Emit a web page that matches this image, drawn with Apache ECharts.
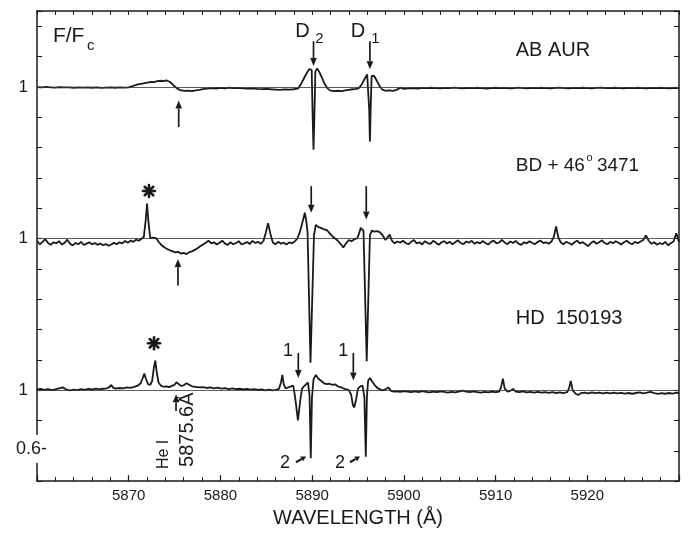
<!DOCTYPE html>
<html><head><meta charset="utf-8">
<script src="https://cdn.jsdelivr.net/npm/echarts/dist/echarts.min.js"></script>
<style>html,body{margin:0;padding:0;background:#fff}#c{width:692px;height:533px}</style>
</head><body><div id="c"></div>
<script>
// ---------------- DATA ----------------
// x axis (wavelength, Angstrom)
const xTickLabels = [5870, 5880, 5890, 5900, 5910, 5920];
// y axis labels (continuum level of each stacked spectrum)
const yLabelValues = [0.6, 1, 2, 3];
const yLabelTexts  = ['', '1', '1', '1'];
// vertical offsets of the stacked spectra
const spectrumNames   = ['AB AUR', 'BD+46 3471', 'HD 150193'];
const spectrumOffsets = [2, 1, 0];

// AB AUR  [wavelength, F/Fc]
const abAur = [
[5860.0,0.998],[5860.5,0.996],[5861.0,0.999],[5861.5,0.997],[5862.0,0.995],[5862.5,0.998],[5863.0,0.996],[5863.5,0.997],[5864.0,0.994],[5864.5,0.996],[5865.0,0.995],[5865.5,0.997],[5866.0,0.994],[5866.5,0.996],[5867.0,0.993],[5867.5,0.995],[5868.0,0.997],[5868.5,0.994],[5869.0,0.996],[5869.5,0.995],[5870.0,0.997],
[5870.5,1.006],[5871.0,1.016],[5871.5,1.021],[5872.0,1.027],[5872.5,1.033],[5872.8,1.031],[5873.1,1.038],[5873.5,1.040],[5873.8,1.037],[5874.1,1.043],[5874.5,1.032],[5874.9,1.010],[5875.3,0.988],[5875.7,0.976],[5876.1,0.973],[5876.5,0.975],[5876.9,0.972],[5877.3,0.976],[5877.7,0.980],[5878.1,0.985],[5878.5,0.988],[5879.0,0.991],[5879.5,0.989],[5880.0,0.993],[5880.5,0.990],[5881.0,0.994],[5881.5,0.991],[5882.0,0.993],[5882.5,0.990],[5883.0,0.988],[5883.5,0.990],[5884.0,0.987],[5884.5,0.985],[5885.0,0.987],[5885.5,0.984],[5886.0,0.982],[5886.5,0.980],[5887.0,0.983],[5887.5,0.981],[5888.0,0.984],
[5888.5,0.990],[5888.8,1.020],[5889.1,1.055],[5889.4,1.090],[5889.7,1.118],[5889.95,1.110],[5890.05,0.820],[5890.15,0.585],[5890.25,0.820],[5890.35,1.100],[5890.55,1.122],[5890.8,1.095],[5891.1,1.055],[5891.4,1.015],[5891.7,0.988],[5892.0,0.975],[5892.4,0.972],[5892.8,0.974],[5893.2,0.971],[5893.6,0.976],[5894.0,0.980],[5894.4,0.984],[5894.8,0.986],
[5895.1,0.992],[5895.4,1.015],[5895.7,1.050],[5896.0,1.082],[5896.15,1.085],[5896.22,0.850],[5896.3,0.640],[5896.38,0.850],[5896.48,1.070],[5896.75,1.073],[5897.05,1.040],[5897.35,1.005],[5897.65,0.982],[5898.0,0.974],[5898.4,0.976],[5898.8,0.973],[5899.2,0.980],[5899.6,0.994],[5900.0,0.987],
[5900.5,0.990],[5901.0,0.992],[5901.5,0.989],[5902.0,0.993],[5902.5,0.991],[5903.0,0.994],[5903.5,0.992],[5904.0,0.990],[5904.5,0.993],[5905.0,0.992],[5905.5,0.995],[5906.0,0.992],[5906.5,0.990],[5907.0,0.993],[5907.5,0.991],[5908.0,0.994],[5908.5,0.992],[5909.0,0.989],[5909.5,0.992],[5910.0,0.994],[5910.5,0.991],[5911.0,0.993],[5911.5,0.990],[5912.0,0.992],[5912.5,0.995],[5913.0,0.992],[5913.5,0.990],[5914.0,0.993],[5914.5,0.991],[5915.0,0.994],[5915.5,0.992],[5916.0,0.990],[5916.5,0.993],[5917.0,0.995],[5917.5,0.992],[5918.0,0.990],[5918.5,0.993],[5919.0,0.991],[5919.5,0.994],[5920.0,0.992],[5920.5,0.990],[5921.0,0.993],[5921.5,0.995],[5922.0,0.992],[5922.5,0.991],[5923.0,0.994],[5923.5,0.992],[5924.0,0.990],[5924.5,0.993],[5925.0,0.991],[5925.5,0.994],[5926.0,0.992],[5926.5,0.990],[5927.0,0.993],[5927.5,0.991],[5928.0,0.994],[5928.5,0.992],[5929.0,0.990],[5929.5,0.993],[5930.0,0.992]
];

// BD +46 3471  [wavelength, F/Fc]
const bd46 = [
[5860.0,0.985],[5860.3,0.962],[5860.6,0.978],[5860.9,0.996],[5861.2,0.970],[5861.5,0.958],[5861.8,0.975],[5862.1,0.968],[5862.4,0.982],[5862.7,0.960],[5863.0,0.971],[5863.3,0.992],[5863.6,0.965],[5863.9,0.954],[5864.2,0.970],[5864.5,0.962],[5864.8,0.978],[5865.1,0.957],[5865.4,0.966],[5865.7,0.975],[5866.0,0.961],[5866.3,0.970],[5866.6,0.958],[5866.9,0.967],[5867.2,0.955],[5867.5,0.963],[5867.8,0.952],[5868.1,0.960],[5868.4,0.971],[5868.7,0.962],[5869.0,0.975],[5869.3,0.968],[5869.6,0.983],[5869.9,0.972],[5870.2,0.986],[5870.5,0.978],[5870.8,0.992],[5871.1,0.985],[5871.4,0.998],[5871.65,1.010],[5871.85,1.120],[5872.0,1.230],[5872.15,1.110],[5872.35,1.000],[5872.6,1.005],[5872.8,1.018],[5873.0,1.002],[5873.3,0.975],[5873.6,0.955],[5873.9,0.940],[5874.2,0.930],[5874.5,0.922],[5874.8,0.915],[5875.1,0.908],[5875.4,0.912],[5875.7,0.900],[5876.0,0.905],[5876.3,0.897],[5876.6,0.910],[5876.9,0.915],[5877.2,0.925],[5877.5,0.935],[5877.8,0.948],[5878.1,0.960],[5878.4,0.972],[5878.7,0.985],[5879.0,0.968],[5879.3,0.975],[5879.6,0.960],[5879.9,0.972],[5880.2,0.985],[5880.5,0.966],[5880.8,0.958],[5881.1,0.975],[5881.4,0.962],[5881.7,0.970],[5882.0,0.982],[5882.3,0.960],[5882.6,0.968],[5882.9,0.977],[5883.2,0.963],[5883.5,0.984],[5883.8,0.970],[5884.1,0.978],[5884.4,0.965],[5884.7,0.985],[5884.95,1.040],[5885.2,1.100],[5885.45,1.030],[5885.7,0.975],[5886.0,0.962],[5886.3,0.978],[5886.6,0.965],[5886.9,0.972],[5887.2,0.960],[5887.5,0.974],[5887.8,0.968],[5888.1,0.980],
[5888.4,1.000],[5888.7,1.050],[5889.0,1.120],[5889.2,1.170],[5889.35,1.120],[5889.5,1.040],[5889.82,0.180],[5890.2,1.020],[5890.4,1.090],[5890.7,1.075],[5891.0,1.068],[5891.3,1.060],[5891.6,1.055],[5891.9,1.035],[5892.2,1.015],[5892.5,1.000],[5892.8,0.985],[5893.1,0.965],[5893.4,0.940],[5893.7,0.968],[5894.0,0.990],[5894.3,0.982],[5894.6,0.995],[5894.9,1.000],[5895.1,1.030],[5895.3,1.070],[5895.5,1.060],[5895.6,1.050],[5895.95,0.190],[5896.3,1.020],[5896.5,1.052],[5896.8,1.045],[5897.1,1.048],[5897.4,1.040],[5897.7,1.020],[5898.0,0.990],[5898.2,0.978],[5898.45,1.025],[5898.7,0.985],[5899.0,0.968],[5899.3,0.980],
[5899.6,0.972],[5899.9,0.985],[5900.2,0.970],[5900.5,0.962],[5900.8,0.978],[5901.1,0.990],[5901.4,0.968],[5901.7,0.975],[5902.0,0.960],[5902.3,0.982],[5902.6,0.970],[5902.9,0.965],[5903.2,0.985],[5903.5,0.972],[5903.8,0.958],[5904.1,0.975],[5904.4,0.982],[5904.7,0.966],[5905.0,0.978],[5905.3,0.962],[5905.6,0.975],[5905.9,0.988],[5906.2,0.970],[5906.5,0.963],[5906.8,0.980],[5907.1,0.972],[5907.4,0.985],[5907.7,0.965],[5908.0,0.976],[5908.3,0.968],[5908.6,0.983],[5908.9,0.970],[5909.2,0.960],[5909.5,0.978],[5909.8,0.986],[5910.1,0.968],[5910.4,0.975],[5910.7,0.990],[5911.0,0.972],[5911.3,0.962],[5911.6,0.980],[5911.9,0.970],[5912.2,0.984],[5912.5,0.966],[5912.8,0.958],[5913.1,0.975],[5913.4,0.968],[5913.7,0.982],[5914.0,0.970],[5914.3,0.963],[5914.6,0.978],[5914.9,0.986],[5915.2,0.970],[5915.5,0.975],[5915.8,0.965],[5916.1,0.980],[5916.35,1.010],[5916.6,1.080],[5916.85,1.005],[5917.1,0.975],[5917.4,0.962],[5917.7,0.978],[5918.0,0.970],[5918.3,0.958],[5918.6,0.975],[5918.9,0.985],[5919.2,0.968],[5919.5,0.976],[5919.8,0.962],[5920.1,0.950],[5920.4,0.970],[5920.7,0.982],[5921.0,0.965],[5921.3,0.975],[5921.6,0.988],[5921.9,0.970],[5922.2,0.962],[5922.5,0.978],[5922.8,0.968],[5923.1,0.982],[5923.4,0.972],[5923.7,0.960],[5924.0,0.975],[5924.3,0.985],[5924.6,0.970],[5924.9,0.962],[5925.2,0.978],[5925.5,0.968],[5925.8,0.980],[5926.1,0.990],[5926.4,1.020],[5926.7,0.985],[5927.0,0.965],[5927.3,0.975],[5927.6,0.958],[5927.9,0.970],[5928.2,0.962],[5928.5,0.978],[5928.8,0.955],[5929.1,0.968],[5929.4,0.980],[5929.7,1.035],[5930.0,0.975]
];

// HD 150193  [wavelength, F/Fc]
const hd150193 = [
[5860.0,1.004],[5860.4,1.008],[5860.8,1.002],[5861.2,1.006],[5861.6,1.000],[5862.0,1.005],[5862.4,1.012],[5862.8,1.018],[5863.2,1.004],[5863.6,0.998],[5864.0,1.003],[5864.4,1.000],[5864.8,1.006],[5865.2,1.002],[5865.6,1.008],[5866.0,1.004],[5866.4,1.010],[5866.8,1.005],[5867.2,1.009],[5867.6,1.012],[5867.9,1.020],[5868.1,1.034],[5868.3,1.016],[5868.6,1.010],[5869.0,1.014],[5869.4,1.012],[5869.8,1.018],[5870.2,1.015],[5870.6,1.022],[5871.0,1.030],[5871.3,1.045],[5871.5,1.075],[5871.7,1.110],[5871.9,1.070],[5872.1,1.040],[5872.35,1.035],[5872.55,1.060],[5872.75,1.150],[5872.9,1.195],[5873.05,1.120],[5873.25,1.050],[5873.5,1.030],[5873.8,1.022],[5874.1,1.025],[5874.4,1.020],[5874.7,1.028],[5875.0,1.035],[5875.2,1.052],[5875.4,1.040],[5875.7,1.028],[5876.0,1.032],[5876.3,1.045],[5876.6,1.035],[5876.9,1.025],[5877.3,1.022],[5877.7,1.018],[5878.1,1.020],[5878.5,1.014],[5878.9,1.018],[5879.3,1.012],[5879.7,1.016],[5880.1,1.010],[5880.5,1.013],[5880.9,1.007],[5881.3,1.011],[5881.7,1.006],[5882.1,1.009],[5882.5,1.004],[5882.9,1.008],[5883.3,1.003],[5883.7,1.006],[5884.1,1.001],[5884.5,1.004],[5884.9,0.999],[5885.3,1.003],[5885.7,0.998],[5886.1,1.002],[5886.4,1.010],
[5886.6,1.050],[5886.75,1.100],[5886.9,1.040],[5887.1,1.012],[5887.4,1.018],[5887.7,1.025],[5887.95,1.030],[5888.15,0.950],[5888.45,0.800],[5888.7,0.930],[5888.9,1.010],[5889.1,1.025],[5889.3,1.035],[5889.55,1.050],[5889.72,0.960],[5889.85,0.550],[5889.98,0.950],[5890.15,1.070],[5890.4,1.100],[5890.7,1.075],[5891.0,1.060],[5891.3,1.045],[5891.6,1.040],[5891.9,1.042],[5892.2,1.035],[5892.5,1.038],[5892.8,1.025],[5893.1,1.020],[5893.4,1.012],[5893.7,1.005],[5894.0,1.000],[5894.25,0.970],[5894.45,0.900],[5894.6,0.886],[5894.8,0.940],[5895.0,1.010],[5895.25,1.025],[5895.5,1.030],[5895.7,0.950],[5895.85,0.560],[5895.97,0.950],[5896.1,1.060],[5896.3,1.080],[5896.55,1.055],[5896.8,1.035],[5897.1,1.015],[5897.4,1.005],[5897.7,0.998],[5898.0,1.005],[5898.3,1.018],[5898.6,0.995],[5898.9,0.990],
[5899.2,0.992],[5899.6,0.988],[5900.0,0.994],[5900.4,0.990],[5900.8,0.986],[5901.2,0.991],[5901.6,0.987],[5902.0,0.993],[5902.4,0.989],[5902.8,0.985],[5903.2,0.990],[5903.6,0.986],[5904.0,0.992],[5904.4,0.988],[5904.8,0.984],[5905.2,0.989],[5905.6,0.985],[5906.0,0.990],[5906.4,0.996],[5906.8,0.990],[5907.2,0.986],[5907.6,0.991],[5908.0,0.987],[5908.4,0.983],[5908.8,0.988],[5909.2,0.985],[5909.6,0.990],[5910.0,0.986],[5910.4,0.990],[5910.6,1.020],[5910.8,1.075],[5911.0,1.010],[5911.3,0.990],[5911.6,0.995],[5911.9,1.008],[5912.2,0.990],[5912.6,0.986],[5913.0,0.991],[5913.4,0.985],[5913.8,0.989],[5914.2,0.984],[5914.6,0.988],[5915.0,0.983],[5915.4,0.987],[5915.8,0.982],[5916.2,0.986],[5916.6,0.981],[5917.0,0.985],[5917.4,0.980],[5917.8,0.986],[5918.0,1.010],[5918.2,1.060],[5918.4,1.000],[5918.7,0.978],[5919.0,0.968],[5919.3,0.980],[5919.7,0.984],[5920.1,0.979],[5920.5,0.985],[5920.9,0.980],[5921.3,0.984],[5921.7,0.978],[5922.1,0.983],[5922.5,0.979],[5922.9,0.984],[5923.3,0.978],[5923.7,0.982],[5924.1,0.977],[5924.5,0.981],[5924.9,0.976],[5925.3,0.981],[5925.7,0.985],[5926.1,0.979],[5926.5,0.983],[5926.9,0.988],[5927.3,0.980],[5927.7,0.975],[5928.1,0.980],[5928.5,0.976],[5928.9,0.981],[5929.3,0.977],[5929.7,0.983],[5930.0,0.979]
];

// annotation texts (anchor in data coordinates: wavelength, stacked F)
const annotationTexts = [
  {text:'F/F', at:[5861.74,3.337], size:21, align:'left'},
  {text:'c', at:[5865.45,3.272], size:15, align:'left'},
  {text:'D', at:[5888.95,3.368], size:20},
  {text:'2', at:[5890.80,3.318], size:15},
  {text:'D', at:[5895.0,3.368], size:20},
  {text:'1', at:[5896.90,3.318], size:15},
  {text:'AB AUR', at:[5912.2,3.239], size:20, align:'left'},
  {text:'BD + 46', at:[5912.2,2.482], size:19, align:'left'},
  {text:'o', at:[5920.25,2.532], size:11, align:'center'},
  {text:'3471', at:[5921.05,2.482], size:19, align:'left'},
  {text:'HD  150193', at:[5912.2,1.470], size:20, align:'left'},
  {text:'1', at:[5887.37,1.255], size:18},
  {text:'1', at:[5893.40,1.255], size:18},
  {text:'2', at:[5887.04,0.516], size:18},
  {text:'2', at:[5893.04,0.518], size:18},
  {text:'He I', at:[5873.85,0.576], size:16, rot:90},
  {text:'5875.6Å', at:[5876.36,0.739], size:20, rot:90},
  {text:'0.6-', at:[5861.09,0.612], size:18, align:'right', bg:true}
];
// arrows: from tail to head (data coordinates)
const annotationArrows = [
  {from:[5890.15,3.300], to:[5890.15,3.137]},
  {from:[5896.30,3.300], to:[5896.30,3.116]},
  {from:[5875.45,2.735], to:[5875.45,2.909]},
  {from:[5875.37,1.690], to:[5875.37,1.864]},
  {from:[5889.90,2.345], to:[5889.90,2.169]},
  {from:[5895.90,2.345], to:[5895.90,2.125]},
  {from:[5875.16,0.863], to:[5875.16,0.972]},
  {from:[5888.49,1.245], to:[5888.49,1.080]},
  {from:[5894.49,1.245], to:[5894.49,1.063]},
  {from:[5888.24,0.524], to:[5889.33,0.563], small:true},
  {from:[5894.13,0.524], to:[5895.22,0.563], small:true}
];
// asterisks marking the emission spikes
const asterisks = [[5872.21,2.313],[5872.76,1.309]];

// ---------------- CHART ----------------
const FONT = '"Liberation Sans", Arial, sans-serif';
const INK = '#1a1a1a';
const chart = echarts.init(document.getElementById('c'), null, {renderer:'canvas'});
const spectra = [abAur, bd46, hd150193];

const series = spectra.map((s, i) => ({
  name: spectrumNames[i],
  type: 'line',
  xAxisIndex: 0, yAxisIndex: 0,
  showSymbol: false, symbol: 'none',
  lineStyle: {color: INK, width: 1.8},
  data: s.map(p => [p[0], p[1] + spectrumOffsets[i]]),
  markLine: {
    silent: true, symbol: 'none', label: {show: false},
    lineStyle: {color: '#333', width: 0.8, type: 'solid'},
    data: [{yAxis: 1 + spectrumOffsets[i]}]
  },
  z: 3
}));

const axisLine = {show: true, lineStyle: {color: INK, width: 1.5}};
const option = {
  backgroundColor: '#fff',
  animation: false,
  grid: {left: 37, right: 13, top: 11, bottom: 47},
  xAxis: [{
    type: 'value', min: 5860, max: 5930, interval: 10, position: 'bottom',
    axisLine: axisLine,
    axisTick: {show: true, inside: true, length: 6, lineStyle: {color: INK, width: 1.2}},
    minorTick: {show: true, splitNumber: 5, length: 4, lineStyle: {color: INK, width: 1}},
    splitLine: {show: false},
    axisLabel: {
      margin: 7, color: INK, fontFamily: FONT, fontSize: 15,
      formatter: v => xTickLabels.indexOf(Math.round(v)) >= 0 ? String(Math.round(v)) : ''
    },
    name: 'WAVELENGTH (Å)', nameLocation: 'middle', nameGap: 22,
    nameTextStyle: {color: INK, fontFamily: FONT, fontSize: 20}
  }, {
    type: 'value', min: 5860, max: 5930, interval: 2, position: 'top',
    axisLine: axisLine,
    axisTick: {show: true, inside: true, length: 4, lineStyle: {color: INK, width: 1}},
    axisLabel: {show: false}, splitLine: {show: false}
  }],
  yAxis: [{
    type: 'value', min: 0.4, max: 3.5, interval: 0.2, position: 'left',
    axisLine: axisLine,
    axisTick: {show: true, inside: true, length: 5, lineStyle: {color: INK, width: 1.1}},
    splitLine: {show: false},
    axisLabel: {
      margin: 9, color: INK, fontFamily: FONT, fontSize: 17,
      formatter: v => {
        for (let k = 0; k < yLabelValues.length; k++) {
          if (Math.abs(v - yLabelValues[k]) < 1e-6) return yLabelTexts[k];
        }
        return '';
      }
    }
  }, {
    type: 'value', min: 0.4, max: 3.5, interval: 0.2, position: 'right',
    axisLine: axisLine,
    axisTick: {show: true, inside: true, length: 5, lineStyle: {color: INK, width: 1.1}},
    axisLabel: {show: false}, splitLine: {show: false}
  }],
  series: series
};
chart.setOption(option);

// ---------------- ANNOTATIONS ----------------
function toPx(p) { return chart.convertToPixel({xAxisIndex: 0, yAxisIndex: 0}, p); }
function arrowShapes(a, b, headLen, half, w) {
  const dx = b[0] - a[0], dy = b[1] - a[1];
  const L = Math.hypot(dx, dy), ux = dx / L, uy = dy / L;
  const bx = b[0] - ux * headLen, by = b[1] - uy * headLen;
  const nx = -uy, ny = ux;
  return [
    {type: 'line', silent: true, z: 20, shape: {x1: a[0], y1: a[1], x2: bx, y2: by},
     style: {stroke: INK, lineWidth: w}},
    {type: 'polygon', silent: true, z: 20,
     shape: {points: [[b[0], b[1]], [bx + nx * half, by + ny * half], [bx - nx * half, by - ny * half]]},
     style: {fill: INK}}
  ];
}
const g = [];
annotationArrows.forEach(a => {
  const p0 = toPx(a.from), p1 = toPx(a.to);
  if (a.small) g.push(...arrowShapes(p0, p1, 5, 2.8, 2.2));
  else g.push(...arrowShapes(p0, p1, 8, 3.3, 1.7));
});
asterisks.forEach(c => {
  const p = toPx(c);
  for (let k = 0; k < 4; k++) {
    const ang = k * Math.PI / 4, r = 6;
    g.push({type: 'line', silent: true, z: 20,
      shape: {x1: p[0] - r * Math.cos(ang), y1: p[1] - r * Math.sin(ang), x2: p[0] + r * Math.cos(ang), y2: p[1] + r * Math.sin(ang)},
      style: {stroke: INK, lineWidth: 2.6, lineCap: 'round'}});
  }
});
annotationTexts.forEach(t => {
  const p = toPx(t.at);
  const el = {
    type: 'text', silent: true, z: 30,
    x: p[0], y: p[1], rotation: t.rot ? t.rot * Math.PI / 180 : 0,
    style: {
      text: t.text, font: t.size + 'px ' + FONT, fill: INK,
      textAlign: t.align || 'center', align: t.align || 'center',
      textVerticalAlign: 'middle', verticalAlign: 'middle'
    }
  };
  if (t.bg) { el.style.backgroundColor = '#fff'; el.style.padding = [5, 0, 5, 0]; }
  g.push(el);
});
chart.setOption({graphic: g});
</script></body></html>
